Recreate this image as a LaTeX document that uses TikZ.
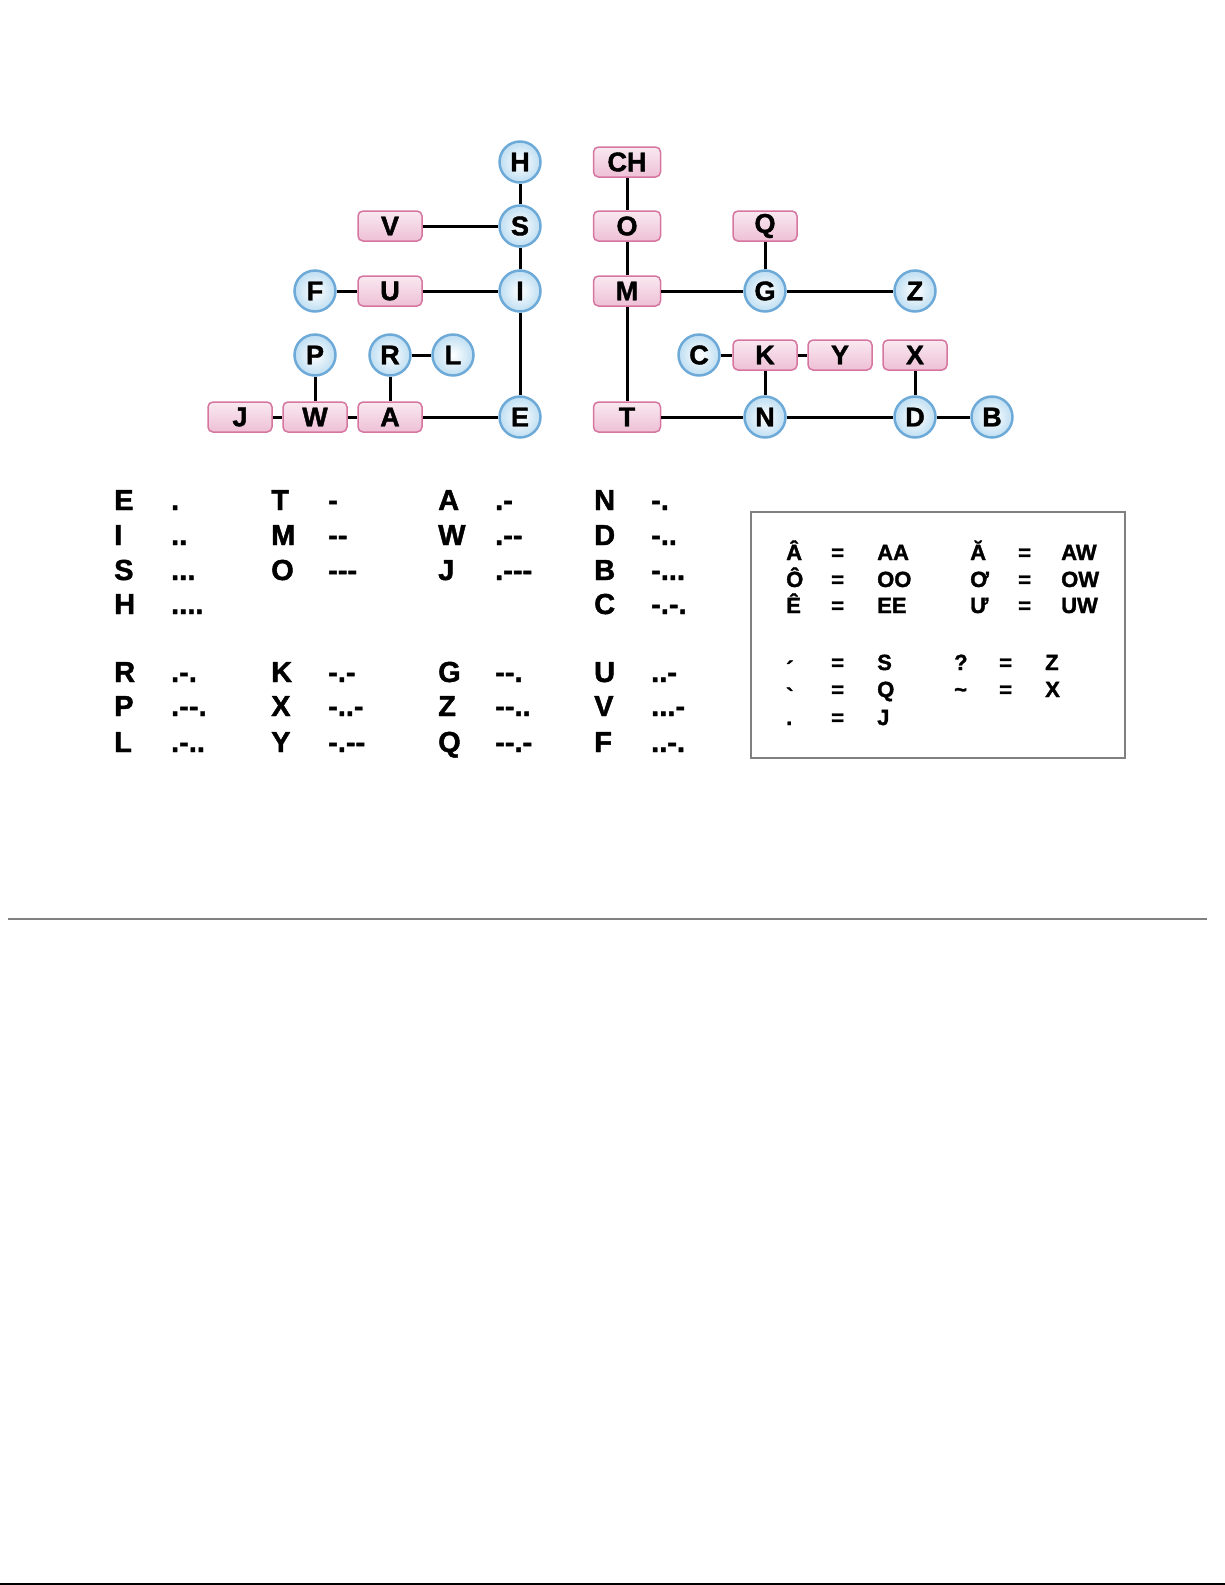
\documentclass[tikz,border=0pt]{standalone}
\usepackage{fontspec}
\setmainfont{Liberation Sans}[BoldFont={Liberation Sans Bold}, BoldFeatures={FakeBold=1.5}, Ligatures=TeXOff]
\usepackage{tikz}
\usetikzlibrary{positioning}

\definecolor{ballblue}{RGB}{110,170,215}
\definecolor{ballfill}{RGB}{190,222,242}
\definecolor{boxpink}{RGB}{214,118,160}
\definecolor{boxfill}{RGB}{238,192,214}

\newcommand{\morsecell}[2]{\makebox[57pt][l]{#1}#2}

\begin{document}
\begin{tikzpicture}[x=1pt, y=-1pt,
    dot/.style={circle, draw=ballblue, line width=2.5pt, inner color=white, outer color=ballfill, minimum size=41pt, inner sep=0pt, font=\fontsize{27}{27}\selectfont\bfseries},
    tag/.style={rectangle, rounded corners=5pt, draw=boxpink, line width=1.5pt, top color=boxfill!35, bottom color=boxfill, minimum width=64pt, minimum height=30pt, inner sep=0pt, font=\fontsize{27}{27}\selectfont\bfseries},
    link/.style={line width=3pt},
    code/.style={anchor=base west, inner sep=0pt, font=\fontsize{29}{29}\selectfont\bfseries},
    key/.style={anchor=base west, inner sep=0pt, font=\fontsize{22}{22}\selectfont\bfseries}
]
\useasboundingbox (0,0) rectangle (1225,1585);

% Dot side of the tree
\node[dot] (E) at (520,417) {E};
\node[dot] (I) at (520,291) {I};
\node[dot] (S) at (520,226) {S};
\node[dot] (H) at (520,162) {H};
\node[tag] (V) at (390,226) {V};
\node[tag] (U) at (390,291) {U};
\node[dot] (F) at (315,291) {F};
\node[tag] (A) at (390,417) {A};
\node[tag] (W) at (315,417) {W};
\node[tag] (J) at (240,417) {J};
\node[dot] (P) at (315,355) {P};
\node[dot] (R) at (390,355) {R};
\node[dot] (L) at (453,355) {L};

% Dash side of the tree
\node[tag, minimum width=67pt] (T) at (627,417) {T};
\node[tag, minimum width=67pt] (M) at (627,291) {M};
\node[tag, minimum width=67pt] (O) at (627,226) {O};
\node[tag, minimum width=67pt] (CH) at (627,162) {CH};
\node[dot] (G) at (765,291) {G};
\node[tag] (Q) at (765,226) {Q};
\node[dot] (Z) at (915,291) {Z};
\node[dot] (N) at (765,417) {N};
\node[tag] (K) at (765,355) {K};
\node[dot] (C) at (699,355) {C};
\node[tag] (Y) at (840,355) {Y};
\node[dot] (D) at (915,417) {D};
\node[tag] (X) at (915,355) {X};
\node[dot] (B) at (992,417) {B};

% Links
\draw[link] (H) -- (S);
\draw[link] (S) -- (I);
\draw[link] (I) -- (E);
\draw[link] (V) -- (S);
\draw[link] (U) -- (I);
\draw[link] (F) -- (U);
\draw[link] (A) -- (E);
\draw[link] (W) -- (A);
\draw[link] (J) -- (W);
\draw[link] (P) -- (W);
\draw[link] (R) -- (A);
\draw[link] (R) -- (L);

\draw[link] (CH) -- (O);
\draw[link] (O) -- (M);
\draw[link] (M) -- (T);
\draw[link] (M) -- (G);
\draw[link] (G) -- (Z);
\draw[link] (Q) -- (G);
\draw[link] (T) -- (N);
\draw[link] (N) -- (D);
\draw[link] (D) -- (B);
\draw[link] (K) -- (N);
\draw[link] (C) -- (K);
\draw[link] (K) -- (Y);
\draw[link] (X) -- (D);

% Code table
\node[code] (cE) at (114,510) {\morsecell{E}{.}};
\node[code] (cI) at (114,545) {\morsecell{I}{..}};
\node[code] (cS) at (114,580) {\morsecell{S}{...}};
\node[code] (cH) at (114,614) {\morsecell{H}{....}};
\node[code] (cR) at (114,682) {\morsecell{R}{.-.}};
\node[code] (cP) at (114,716) {\morsecell{P}{.--.}};
\node[code] (cL) at (114,752) {\morsecell{L}{.-..}};

\node[code] (cT) at (271,510) {\morsecell{T}{-}};
\node[code] (cM) at (271,545) {\morsecell{M}{--}};
\node[code] (cO) at (271,580) {\morsecell{O}{---}};
\node[code] (cK) at (271,682) {\morsecell{K}{-.-}};
\node[code] (cX) at (271,716) {\morsecell{X}{-..-}};
\node[code] (cY) at (271,752) {\morsecell{Y}{-.--}};

\node[code] (cA) at (438,510) {\morsecell{A}{.-}};
\node[code] (cW) at (438,545) {\morsecell{W}{.--}};
\node[code] (cJ) at (438,580) {\morsecell{J}{.---}};
\node[code] (cG) at (438,682) {\morsecell{G}{--.}};
\node[code] (cZ) at (438,716) {\morsecell{Z}{--..}};
\node[code] (cQ) at (438,752) {\morsecell{Q}{--.-}};

\node[code] (cN) at (594,510) {\morsecell{N}{-.}};
\node[code] (cD) at (594,545) {\morsecell{D}{-..}};
\node[code] (cB) at (594,580) {\morsecell{B}{-...}};
\node[code] (cC) at (594,614) {\morsecell{C}{-.-.}};
\node[code] (cU) at (594,682) {\morsecell{U}{..-}};
\node[code] (cV) at (594,716) {\morsecell{V}{...-}};
\node[code] (cF) at (594,752) {\morsecell{F}{..-.}};

% Vietnamese keys
\draw[gray, line width=1.5pt] (751,512) rectangle (1125,758);

\node[key] (k1) at (786,560) {Â};  \node[key] (e1) at (831,560) {=};  \node[key] (v1) at (877,560) {AA};
\node[key] (k2) at (786,587) {Ô};  \node[key] (e2) at (831,587) {=};  \node[key] (v2) at (877,587) {OO};
\node[key] (k3) at (786,613) {Ê};  \node[key] (e3) at (831,613) {=};  \node[key] (v3) at (877,613) {EE};
\node[key] (k4) at (970,560) {Ă};  \node[key] (e4) at (1018,560) {=}; \node[key] (v4) at (1061,560) {AW};
\node[key] (k5) at (970,587) {Ơ};  \node[key] (e5) at (1018,587) {=}; \node[key] (v5) at (1061,587) {OW};
\node[key] (k6) at (970,613) {Ư};  \node[key] (e6) at (1018,613) {=}; \node[key] (v6) at (1061,613) {UW};

\node[key] (k7) at (786,670) {\raisebox{-0.3em}{´}}; \node[key] (e7) at (831,670) {=}; \node[key] (v7) at (877,670) {S};
\node[key] (k8) at (786,697) {\raisebox{-0.3em}{`}}; \node[key] (e8) at (831,697) {=}; \node[key] (v8) at (877,697) {Q};
\node[key] (k9) at (786,725) {.};  \node[key] (e9) at (831,725) {=};  \node[key] (v9) at (877,725) {J};
\node[key] (k10) at (954,670) {?}; \node[key] (e10) at (999,670) {=}; \node[key] (v10) at (1045,670) {Z};
\node[key] (k11) at (954,697) {\textasciitilde}; \node[key] (e11) at (999,697) {=}; \node[key] (v11) at (1045,697) {X};

% Rules
\draw[gray, line width=1.5pt] (8,919) -- (1207,919);
\draw[line width=2pt] (0,1584) -- (1225,1584);

\end{tikzpicture}
\end{document}
